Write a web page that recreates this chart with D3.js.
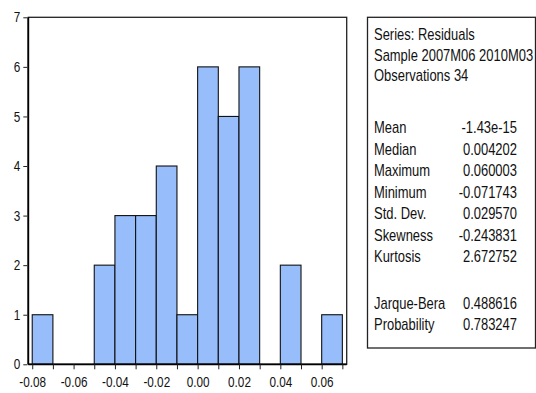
<!DOCTYPE html>
<html>
<head>
<meta charset="utf-8">
<script src="https://cdn.jsdelivr.net/npm/d3@7/dist/d3.min.js"></script>
<style>
  html, body { margin: 0; padding: 0; background: #fff; }
  svg { display: block; }
  text { font-family: "Liberation Sans", Arial, sans-serif; fill: #111; }
</style>
</head>
<body>
<svg id="chart" width="536" height="393"></svg>
<script>
// Histogram bins of the residuals (bin start, count); every bin is 0.01 wide
const binStarts = [-0.08, -0.07, -0.06, -0.05, -0.04, -0.03, -0.02, -0.01, 0.00, 0.01, 0.02, 0.03, 0.04, 0.05, 0.06];
const binWidth = 0.01;
const counts = [1, 0, 0, 2, 3, 3, 4, 1, 6, 5, 6, 0, 2, 0, 1];

// Axis ticks
const xMinorTicks = [-0.08, -0.07, -0.06, -0.05, -0.04, -0.03, -0.02, -0.01, 0.00, 0.01, 0.02, 0.03, 0.04, 0.05, 0.06, 0.07];
const xTickLabels = [-0.08, -0.06, -0.04, -0.02, 0.00, 0.02, 0.04, 0.06];
const yTicks = [0, 1, 2, 3, 4, 5, 6, 7];
const xDomain = [-0.0819, 0.0721];
const yDomain = [0, 7];

// Descriptive statistics panel
const headerLines = ["Series: Residuals", "Sample 2007M06 2010M03", "Observations 34"];
const statNames = ["Mean", "Median", "Maximum", "Minimum", "Std. Dev.", "Skewness", "Kurtosis"];
const statValues = ["-1.43e-15", "0.004202", "0.060003", "-0.071743", "0.029570", "-0.243831", "2.672752"];
const testNames = ["Jarque-Bera", "Probability"];
const testValues = ["0.488616", "0.783247"];

const svg = d3.select("#chart");
const narrow = 0.81; // horizontal squeeze for a condensed sans look

const plot = { left: 28.3, right: 346.7, top: 17.3, bottom: 364.3 };
const x = d3.scaleLinear().domain(xDomain).range([plot.left, plot.right]);
const y = d3.scaleLinear().domain(yDomain).range([plot.bottom, plot.top]);

// Bars
svg.append("g")
  .selectAll("rect")
  .data(binStarts.map((s, i) => ({ s, c: counts[i] })).filter(d => d.c > 0))
  .join("rect")
  .attr("x", d => x(d.s))
  .attr("width", d => x(d.s + binWidth) - x(d.s))
  .attr("y", d => y(d.c))
  .attr("height", d => y(0) - y(d.c))
  .attr("fill", "#97bdfb")
  .attr("stroke", "#111")
  .attr("stroke-width", 1.1);

// Frame
svg.append("rect")
  .attr("x", plot.left).attr("y", plot.top)
  .attr("width", plot.right - plot.left).attr("height", plot.bottom - plot.top)
  .attr("fill", "none").attr("stroke", "#222").attr("stroke-width", 1.3);
svg.append("line")
  .attr("x1", plot.left).attr("x2", plot.left).attr("y1", plot.top).attr("y2", plot.bottom)
  .attr("stroke", "#000").attr("stroke-width", 1.8);
svg.append("line")
  .attr("x1", plot.left).attr("x2", plot.right).attr("y1", plot.bottom).attr("y2", plot.bottom)
  .attr("stroke", "#000").attr("stroke-width", 1.8);

const fmt2 = d => d3.format(".2f")(d).replace("\u2212", "-");

// X axis: tick at every bin edge, label at every other
const xAxis = d3.axisBottom(x)
  .tickValues(xMinorTicks)
  .tickSize(5)
  .tickSizeOuter(0)
  .tickFormat(d => xTickLabels.some(v => Math.abs(v - d) < 1e-9) ? fmt2(d) : "");
const gx = svg.append("g").attr("transform", `translate(0,${plot.bottom})`).call(xAxis);
gx.select(".domain").remove();
gx.selectAll(".tick line").attr("stroke", "#222").attr("stroke-width", 1);
gx.selectAll(".tick text").attr("y", 12.5).attr("font-size", 14.5).attr("fill", "#111");

// Y axis
const yAxis = d3.axisLeft(y).tickValues(yTicks).tickSize(4).tickSizeOuter(0).tickFormat(d3.format("d"));
const gy = svg.append("g").attr("transform", `translate(${plot.left - 1},0)`).call(yAxis);
gy.select(".domain").remove();
gy.selectAll(".tick line").attr("stroke", "#222").attr("stroke-width", 1);
gy.selectAll(".tick text").attr("x", -7).attr("font-size", 14.5).attr("fill", "#111");

// Statistics panel
const box = { left: 367.5, top: 17.3, right: 535.5, bottom: 348 };
svg.append("rect")
  .attr("x", box.left).attr("y", box.top)
  .attr("width", box.right - box.left).attr("height", box.bottom - box.top)
  .attr("fill", "#fff").attr("stroke", "#222").attr("stroke-width", 1.3);

const textX = 374, valueX = 517, fs = 16;
const panel = svg.append("g").attr("font-size", fs);

const headerY = [40.5, 61, 81.5];
headerLines.forEach((t, i) => {
  panel.append("text").attr("x", textX).attr("y", headerY[i]).text(t);
});

const statY0 = 133.5, step = 21.5;
statNames.forEach((t, i) => {
  panel.append("text").attr("x", textX).attr("y", statY0 + i * step).text(t);
  panel.append("text").attr("x", valueX).attr("y", statY0 + i * step)
    .attr("text-anchor", "end").text(statValues[i]);
});

const testY0 = 309;
testNames.forEach((t, i) => {
  panel.append("text").attr("x", textX).attr("y", testY0 + i * step).text(t);
  panel.append("text").attr("x", valueX).attr("y", testY0 + i * step)
    .attr("text-anchor", "end").text(testValues[i]);
});

// Condense every label horizontally around its own anchor
svg.selectAll("text").each(function () {
  const t = d3.select(this);
  const x0 = +(t.attr("x") || 0);
  t.attr("x", x0 / narrow).attr("transform", `scale(${narrow},1)`);
});
</script>
</body>
</html>
